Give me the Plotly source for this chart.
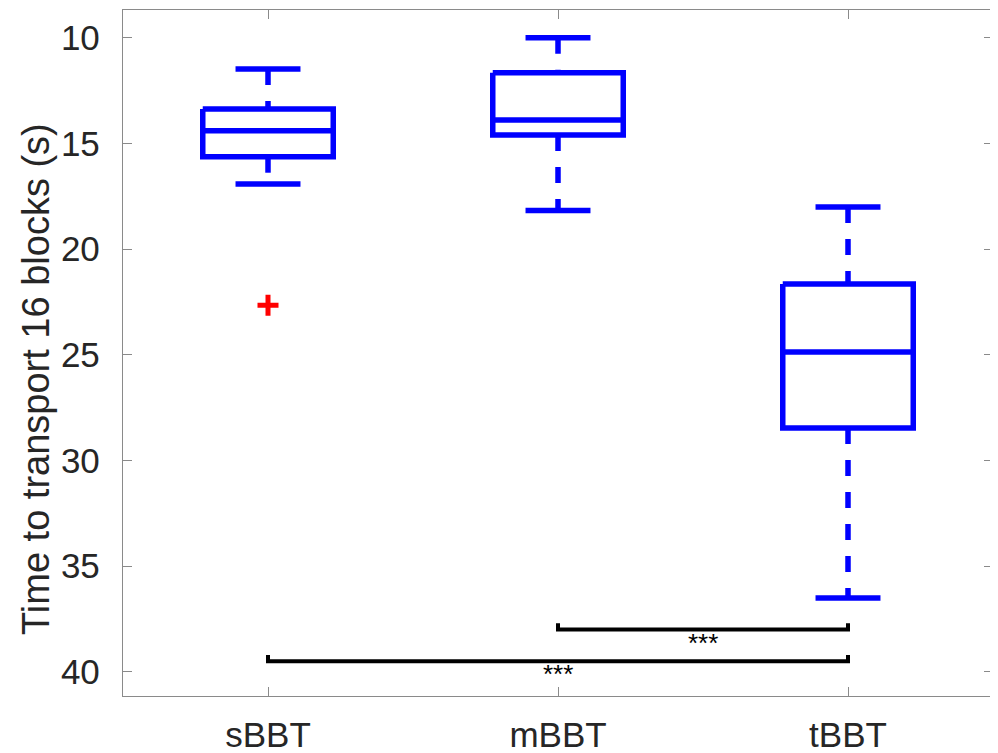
import plotly.graph_objects as go

# ---- data (seconds) ----
categories = ["sBBT", "mBBT", "tBBT"]
whisker_top = [11.48, 10.00, 18.01]     # smallest non-outlier value
q1 = [13.37, 11.66, 21.65]
median = [14.40, 13.89, 24.87]
q3 = [15.63, 14.60, 28.46]
whisker_bottom = [16.92, 18.18, 36.50]  # largest non-outlier value
outlier_cat = ["sBBT"]
outlier_val = [22.66]

comp_from = ["mBBT", "sBBT"]
comp_to = ["tBBT", "tBBT"]
comp_y = [38.0, 39.5]
comp_label = ["***", "***"]

y_ticks = [10, 15, 20, 25, 30, 35, 40]

# ---- styling ----
BLUE = "rgb(0,0,255)"
TXT = "#262626"
AX = "#8a8a8a"
FONT = "Liberation Sans, Arial, Helvetica, sans-serif"
box_half = 0.225
cap_half = 0.112
lw = 5.5
dash = "16px,16px"
tick_h = 0.3

pos = {c: i + 1 for i, c in enumerate(categories)}

fig = go.Figure()

for i, c in enumerate(categories):
    x = pos[c]
    # whiskers (dashed), drawn from lower value to higher value
    fig.add_trace(go.Scatter(x=[x, x], y=[whisker_top[i], q1[i]], mode="lines",
                             line=dict(color=BLUE, width=lw, dash=dash),
                             hoverinfo="skip", showlegend=False))
    fig.add_trace(go.Scatter(x=[x, x], y=[q3[i], whisker_bottom[i]], mode="lines",
                             line=dict(color=BLUE, width=lw, dash=dash),
                             hoverinfo="skip", showlegend=False))
    # caps
    for v in (whisker_top[i], whisker_bottom[i]):
        fig.add_trace(go.Scatter(x=[x - cap_half, x + cap_half], y=[v, v], mode="lines",
                                 line=dict(color=BLUE, width=lw),
                                 hoverinfo="skip", showlegend=False))
    # box
    fig.add_trace(go.Scatter(
        x=[x - box_half, x + box_half, x + box_half, x - box_half, x - box_half],
        y=[q1[i], q1[i], q3[i], q3[i], q1[i]], mode="lines",
        line=dict(color=BLUE, width=lw), hoverinfo="skip", showlegend=False))
    # median
    fig.add_trace(go.Scatter(x=[x - box_half, x + box_half], y=[median[i], median[i]],
                             mode="lines", line=dict(color=BLUE, width=lw),
                             hoverinfo="skip", showlegend=False))

# outliers
fig.add_trace(go.Scatter(x=[pos[c] for c in outlier_cat], y=outlier_val, mode="markers",
                         marker=dict(symbol="cross-thin", size=15, color="red",
                                     line=dict(color="red", width=5)),
                         hoverinfo="skip", showlegend=False))

# significance brackets
for a, b, yv, lab in zip(comp_from, comp_to, comp_y, comp_label):
    xa, xb = pos[a], pos[b]
    fig.add_trace(go.Scatter(x=[xa, xa, xb, xb], y=[yv - tick_h, yv, yv, yv - tick_h],
                             mode="lines", line=dict(color="black", width=4),
                             hoverinfo="skip", showlegend=False))
    fig.add_annotation(x=(xa + xb) / 2, y=yv, text=lab, showarrow=False,
                       yanchor="top", yshift=4,
                       font=dict(family=FONT, size=26, color="black"))

# y-axis title as annotation
fig.add_annotation(xref="paper", yref="paper", x=(36 - 123) / 870, y=0.5,
                   yshift=-26,
                   text="Time to transport 16 blocks (s)", textangle=-90,
                   showarrow=False, xanchor="center", yanchor="middle",
                   font=dict(family=FONT, size=38, color=TXT))

axis_common = dict(showline=True, linecolor=AX, linewidth=1.3, mirror="ticks",
                   ticks="inside", ticklen=9, tickwidth=1.3, tickcolor=AX,
                   showgrid=False, zeroline=False, automargin=False,
                   tickfont=dict(family=FONT, size=35, color=TXT))

fig.update_xaxes(range=[0.5, 3.5], tickvals=[pos[c] for c in categories],
                 ticktext=categories, ticklabelstandoff=8, **axis_common)
fig.update_yaxes(range=[41.14, 8.69], tickvals=y_ticks,
                 ticktext=[str(t) for t in y_ticks], ticklabelstandoff=15, **axis_common)

# the page body has an 8px margin, so the figure is sized 8px smaller
fig.update_layout(width=990, height=745, plot_bgcolor="white", paper_bgcolor="white",
                  margin=dict(l=115, r=5, t=2, b=57), showlegend=False)

fig.write_html("out.html")
